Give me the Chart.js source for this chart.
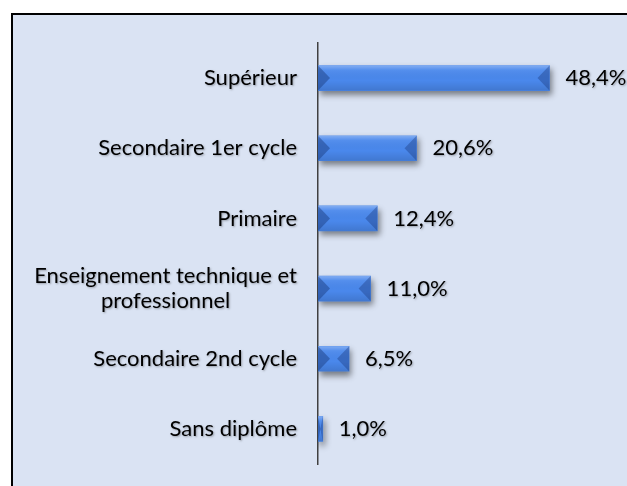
<!DOCTYPE html>
<html>
<head>
<meta charset="utf-8">
<script src="https://cdn.jsdelivr.net/npm/chart.js@4.4.1/dist/chart.umd.min.js"></script>
<style>
    body { margin: 0; background: #fff; overflow: hidden; width: 627px; height: 486px; position: relative; }
    #frame { position: absolute; left: 11px; top: 13px; width: 640px; height: 500px; border: 2px solid #000; background: #dae3f3; }
    #chart { position: absolute; left: 0; top: 0; }
</style>
</head>
<body>
<div id="frame"></div>
<canvas id="chart" width="627" height="486"></canvas>
<script>
// Niveau d'instruction (%)
const categories = ['Supérieur', 'Secondaire 1er cycle', 'Primaire', ['Enseignement technique et', 'professionnel'], 'Secondaire 2nd cycle', 'Sans diplôme'];
const values = [48.4, 20.6, 12.4, 11.0, 6.5, 1.0];

const FONT = '22px Lato';

function fmt(v) {
    return v.toFixed(1).replace('.', ',') + '%';
}

// ombre sous les barres
const shadowPlugin = {
    id: 'barShadow',
    beforeDatasetsDraw(chart) {
        const ctx = chart.ctx;
        ctx.save();
        ctx.shadowColor = 'rgba(0, 0, 0, 0.45)';
        ctx.shadowBlur = 6;
        ctx.shadowOffsetX = 2;
        ctx.shadowOffsetY = 4;
    },
    afterDatasetsDraw(chart) {
        chart.ctx.restore();
    }
};

// effet biseau + textes
const bevelPlugin = {
    id: 'bevel',
    afterDraw(chart) {
        const ctx = chart.ctx;
        const meta = chart.getDatasetMeta(0);
        meta.data.forEach((bar, i) => {
            const left = bar.base, right = bar.x;
            const top = bar.y - bar.height / 2, bottom = bar.y + bar.height / 2;
            const w = right - left;
            const d = Math.min(12, w / 2);

            const g = ctx.createLinearGradient(0, top, 0, bottom);
            g.addColorStop(0, 'rgba(255,255,255,0.3)');
            g.addColorStop(0.18, 'rgba(255,255,255,0.06)');
            g.addColorStop(0.6, 'rgba(0,0,0,0)');
            g.addColorStop(1, 'rgba(0,0,0,0.12)');
            ctx.fillStyle = g;
            ctx.fillRect(left, top, w, bottom - top);

            ctx.fillStyle = 'rgba(25, 55, 120, 0.45)';
            ctx.beginPath();
            ctx.moveTo(left, top);
            ctx.lineTo(left + d, bar.y);
            ctx.lineTo(left, bottom);
            ctx.closePath();
            ctx.fill();
            ctx.fillStyle = 'rgba(25, 55, 120, 0.38)';
            ctx.beginPath();
            ctx.moveTo(right, top);
            ctx.lineTo(right - d, bar.y);
            ctx.lineTo(right, bottom);
            ctx.closePath();
            ctx.fill();

            ctx.save();
            ctx.shadowColor = 'rgba(0,0,0,0.3)';
            ctx.shadowBlur = 2;
            ctx.shadowOffsetX = 1;
            ctx.shadowOffsetY = 1;
            ctx.font = FONT;
            ctx.fillStyle = '#000';
            ctx.textBaseline = 'middle';
            ctx.textAlign = 'left';
            ctx.fillText(fmt(values[i]), right + 16, bar.y);
            ctx.restore();
        });

        // étiquettes des catégories
        const yScale = chart.scales.y;
        ctx.save();
        ctx.shadowColor = 'rgba(0,0,0,0.3)';
        ctx.shadowBlur = 2;
        ctx.shadowOffsetX = 1;
        ctx.shadowOffsetY = 1;
        ctx.font = FONT;
        ctx.fillStyle = '#000';
        ctx.textBaseline = 'middle';
        const xEnd = yScale.right - 21;
        categories.forEach((label, i) => {
            const y = yScale.getPixelForTick(i);
            if (Array.isArray(label)) {
                const widest = Math.max(...label.map(l => ctx.measureText(l).width));
                const lh = 25;
                ctx.textAlign = 'center';
                label.forEach((line, j) => {
                    ctx.fillText(line, xEnd - widest / 2, y + (j - (label.length - 1) / 2) * lh);
                });
            } else {
                ctx.textAlign = 'right';
                ctx.fillText(label, xEnd, y);
            }
        });
        ctx.restore();
    }
};

new Chart(document.getElementById('chart').getContext('2d'), {
    type: 'bar',
    data: {
        labels: categories,
        datasets: [{
            data: values,
            backgroundColor: '#4a88ec',
            borderWidth: 0,
            barThickness: 25
        }]
    },
    options: {
        indexAxis: 'y',
        responsive: false,
        animation: false,
        layout: { padding: { top: 43, bottom: 22, right: 22, left: 0 } },
        plugins: {
            legend: { display: false },
            tooltip: { enabled: false }
        },
        scales: {
            x: { display: false, min: 0, max: 60 },
            y: {
                grid: { display: false },
                border: { display: true, color: '#404040', width: 1.5 },
                ticks: { display: false },
                afterFit: s => { s.width = 318; }
            }
        }
    },
    plugins: [shadowPlugin, bevelPlugin]
});
</script>
</body>
</html>
